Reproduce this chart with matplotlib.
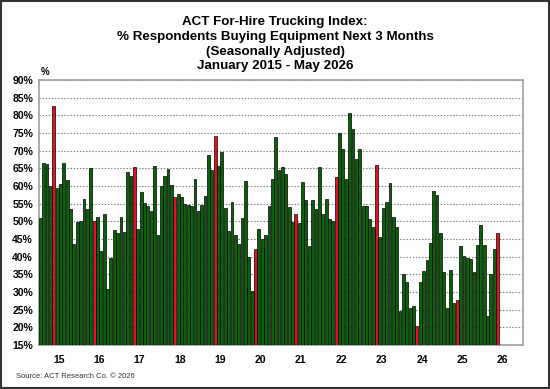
import matplotlib
matplotlib.use('Agg')
import matplotlib.pyplot as plt
from matplotlib.patches import Rectangle

# Monthly values, Jan 2015 - May 2026 (% respondents)
values = [
    51.0, 66.4, 66.1, 60.0, 82.6, 59.5, 60.6, 66.4, 61.7, 53.4, 43.6, 49.9,   # 2015
    50.1, 56.3, 53.4, 65.0, 50.2, 51.3, 41.5, 52.1, 30.8, 39.5, 47.6, 46.8,   # 2016
    51.1, 46.9, 64.0, 62.8, 65.3, 47.8, 58.4, 55.3, 54.4, 52.9, 65.8, 46.2,   # 2017
    60.0, 62.9, 64.7, 60.3, 56.8, 57.7, 56.8, 54.9, 54.6, 54.2, 62.1, 52.9,   # 2018
    54.6, 57.3, 68.7, 64.5, 74.2, 65.7, 69.5, 53.9, 47.4, 55.4, 46.2, 43.6,   # 2019
    50.9, 61.4, 40.0, 30.4, 42.1, 47.8, 45.0, 46.2, 54.2, 62.1, 73.8, 64.5,   # 2020
    65.3, 63.5, 54.0, 49.7, 52.0, 49.6, 61.0, 56.1, 43.0, 55.9, 53.4, 65.5,   # 2021
    52.1, 56.4, 50.6, 50.1, 62.5, 75.1, 70.5, 62.1, 80.6, 76.0, 67.6, 70.4,   # 2022
    54.4, 54.4, 50.6, 48.5, 65.9, 45.7, 53.7, 55.5, 60.8, 51.1, 48.3, 24.7,   # 2023
    35.0, 32.9, 25.4, 26.1, 20.5, 32.9, 36.0, 39.1, 44.0, 58.6, 57.5, 46.6,   # 2024
    35.6, 25.4, 36.2, 27.0, 27.8, 42.9, 40.2, 39.5, 39.4, 35.6, 43.2, 49.0,   # 2025
    43.2, 23.1, 35.0, 42.2, 46.7,                                             # 2026
]
year_labels = ['15', '16', '17', '18', '19', '20', '21', '22', '23', '24', '25', '26']
y_ticks = list(range(15, 95, 5))

green = '#066406'
red = '#e8101c'


def main():
    fig = plt.figure(figsize=(5.5, 3.89), dpi=100)
    plt.rcParams['font.family'] = ['Liberation Sans', 'DejaVu Sans']
    ax = fig.add_axes([38.6 / 550, 1 - 345 / 389, (522.8 - 38.6) / 550, (345 - 80) / 389])

    # May of each year is highlighted in red
    colors = [red if i % 12 == 4 else green for i in range(len(values))]
    ax.bar(range(len(values)), [v - 15 for v in values], bottom=15, width=0.85,
           color=colors, edgecolor='black', linewidth=0.5, zorder=3)

    ax.set_xlim(-0.5, 143.5)
    ax.set_ylim(15, 90)
    ax.set_yticks(y_ticks)
    ax.set_yticklabels([f'{t}%' for t in y_ticks], fontsize=7.5, fontweight='bold')
    ax.set_xticks([12 * k + 5.5 for k in range(len(year_labels))])
    ax.set_xticklabels(year_labels, fontsize=7.5, fontweight='bold')
    ax.tick_params(axis='y', length=0, pad=4)
    ax.tick_params(axis='x', length=0, pad=7)

    ax.yaxis.grid(True, linestyle=(0, (1.2, 1.6)), color='#777777', linewidth=0.8, zorder=0)
    for s in ax.spines.values():
        s.set_color('#a0a0a0')
        s.set_linewidth(1.2)

    # Titles
    titles = ['ACT For-Hire Trucking Index:', '% Respondents Buying Equipment Next 3 Months',
              '(Seasonally Adjusted)', 'January 2015 - May 2026']
    ys = [22, 37, 52, 66]
    for t, y in zip(titles, ys):
        fig.text(0.5, 1 - y / 389, t, ha='center', va='center', fontsize=9.6, fontweight='bold')
    fig.text(45 / 550, 1 - 72 / 389, '%', ha='center', va='center', fontsize=7, fontweight='bold')
    fig.text(16 / 550, 1 - 377 / 389, 'Source: ACT Research Co. \u00a9 2026', ha='left', va='center',
             fontsize=5.5, color='#333333')

    # Outer border
    fig.patches.append(Rectangle((0.002, 0.003), 0.996, 0.994, transform=fig.transFigure,
                                 fill=False, edgecolor='#333333', linewidth=1.5))

    fig.savefig('out.png', dpi=100)


if __name__ == '__main__':
    main()
